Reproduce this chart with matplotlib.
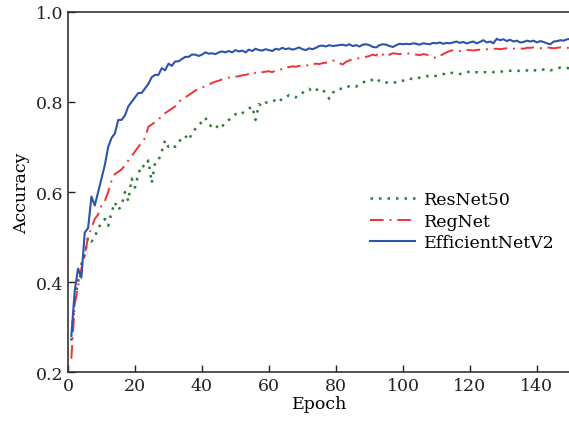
import matplotlib
matplotlib.use('Agg')
import matplotlib.pyplot as plt

# Accuracy per epoch
epochs = list(range(1, 151))

resnet50 = [
    0.27, 0.36, 0.40, 0.44, 0.46, 0.50, 0.49, 0.50, 0.52, 0.53,
    0.54, 0.525, 0.555, 0.577, 0.56, 0.57, 0.60, 0.58, 0.63, 0.61,
    0.64, 0.66, 0.655, 0.67, 0.62, 0.665, 0.67, 0.69, 0.715, 0.70,
    0.705, 0.70, 0.71, 0.72, 0.725, 0.715, 0.73, 0.74, 0.75, 0.755,
    0.765, 0.75, 0.745, 0.74, 0.75, 0.745, 0.755, 0.76, 0.765, 0.773,
    0.77, 0.775, 0.78, 0.785, 0.79, 0.76, 0.795, 0.79, 0.798, 0.80,
    0.80, 0.805, 0.80, 0.808, 0.81, 0.815, 0.812, 0.81, 0.818, 0.82,
    0.825, 0.829, 0.822, 0.826, 0.83, 0.828, 0.818, 0.807, 0.82, 0.826,
    0.83, 0.828, 0.832, 0.835, 0.836, 0.834, 0.84, 0.843, 0.846, 0.845,
    0.85, 0.853, 0.846, 0.842, 0.843, 0.842, 0.842, 0.844, 0.848, 0.847,
    0.85, 0.852, 0.85, 0.851, 0.854, 0.856, 0.858, 0.855, 0.857, 0.858,
    0.86, 0.862, 0.861, 0.865, 0.864, 0.863, 0.862, 0.863, 0.866, 0.867,
    0.864, 0.866, 0.865, 0.866, 0.866, 0.867, 0.866, 0.867, 0.868, 0.867,
    0.868, 0.869, 0.87, 0.868, 0.87, 0.871, 0.87, 0.868, 0.871, 0.869,
    0.87, 0.872, 0.873, 0.87, 0.872, 0.875, 0.876, 0.874, 0.875, 0.875,
]

regnet = [
    0.23, 0.35, 0.39, 0.43, 0.46, 0.50, 0.52, 0.54, 0.55, 0.57,
    0.58, 0.60, 0.625, 0.64, 0.645, 0.65, 0.66, 0.67, 0.68, 0.69,
    0.70, 0.71, 0.72, 0.745, 0.75, 0.755, 0.76, 0.77, 0.775, 0.78,
    0.785, 0.79, 0.80, 0.805, 0.81, 0.815, 0.82, 0.825, 0.83, 0.832,
    0.835, 0.838, 0.842, 0.845, 0.847, 0.85, 0.852, 0.854, 0.856, 0.856,
    0.857, 0.859, 0.86, 0.862, 0.86, 0.865, 0.864, 0.866, 0.867, 0.868,
    0.866, 0.87, 0.871, 0.873, 0.878, 0.877, 0.879, 0.878, 0.88, 0.88,
    0.882, 0.88, 0.883, 0.885, 0.884, 0.886, 0.887, 0.889, 0.892, 0.89,
    0.886, 0.883, 0.889, 0.892, 0.895, 0.896, 0.897, 0.899, 0.90, 0.902,
    0.905, 0.903, 0.91, 0.905, 0.90, 0.905, 0.908, 0.907, 0.906, 0.907,
    0.908, 0.907, 0.906, 0.905, 0.904, 0.906, 0.905, 0.903, 0.90, 0.897,
    0.902, 0.906, 0.91, 0.913, 0.915, 0.914, 0.913, 0.914, 0.915, 0.915,
    0.914, 0.915, 0.916, 0.916, 0.917, 0.917, 0.918, 0.918, 0.917, 0.918,
    0.919, 0.919, 0.918, 0.92, 0.919, 0.918, 0.92, 0.92, 0.921, 0.92,
    0.919, 0.92, 0.921, 0.92, 0.919, 0.92, 0.921, 0.92, 0.92, 0.92,
]

efficientnetv2 = [
    0.28, 0.38, 0.43, 0.41, 0.51, 0.52, 0.59, 0.57, 0.60, 0.63,
    0.66, 0.70, 0.72, 0.73, 0.76, 0.76, 0.77, 0.79, 0.80, 0.81,
    0.82, 0.82, 0.83, 0.84, 0.855, 0.86, 0.86, 0.875, 0.87, 0.885,
    0.88, 0.89, 0.89, 0.895, 0.90, 0.90, 0.905, 0.905, 0.902, 0.905,
    0.91, 0.907, 0.908, 0.906, 0.91, 0.912, 0.91, 0.913, 0.91, 0.915,
    0.912, 0.914, 0.91, 0.916, 0.913, 0.918, 0.915, 0.914, 0.917, 0.915,
    0.913, 0.918, 0.916, 0.92, 0.917, 0.919, 0.916, 0.918, 0.921, 0.917,
    0.915, 0.919, 0.917, 0.92, 0.924, 0.925, 0.923, 0.926, 0.924, 0.925,
    0.926, 0.927, 0.925, 0.928, 0.924, 0.926, 0.923, 0.927, 0.928, 0.926,
    0.922, 0.921, 0.926, 0.928, 0.927, 0.924, 0.922, 0.926, 0.929, 0.928,
    0.929, 0.928, 0.93, 0.929, 0.927, 0.93, 0.929, 0.928, 0.931, 0.93,
    0.932, 0.929, 0.931, 0.93, 0.932, 0.934, 0.931, 0.933, 0.93, 0.932,
    0.934, 0.93, 0.933, 0.937, 0.932, 0.934, 0.93, 0.94, 0.937, 0.939,
    0.935, 0.938, 0.934, 0.936, 0.932, 0.933, 0.936, 0.934, 0.936, 0.932,
    0.935, 0.933, 0.93, 0.928, 0.934, 0.935, 0.937, 0.936, 0.939, 0.94,
]

x_ticks = [0, 20, 40, 60, 80, 100, 120, 140]
y_ticks = [0.2, 0.4, 0.6, 0.8, 1.0]

plt.rcParams['font.family'] = ['DejaVu Serif']
plt.rcParams['font.size'] = 12

fig = plt.figure(figsize=(5.69, 4.27), dpi=100)
# the reference is cropped at the right edge, so no right spine shows
ax = fig.add_axes([0.1195, 0.126, 0.883, 0.844])

ax.plot(epochs, resnet50, color='#2e7a36', linestyle=(0, (1, 2.4)), linewidth=1.8, label='ResNet50')
ax.plot(epochs, regnet, color='#ee3336', linestyle=(0, (7, 3, 1, 3)), linewidth=1.4, label='RegNet')
ax.plot(epochs, efficientnetv2, color='#2c54a8', linestyle='-', linewidth=1.5, label='EfficientNetV2')

ax.set_xlim(0, 150)
ax.set_ylim(0.2, 1.0)
ax.set_xticks(x_ticks)
ax.set_yticks(y_ticks)
ax.set_yticklabels(['0.2', '0.4', '0.6', '0.8', '1.0'])
ax.tick_params(direction='in', length=5, width=1, labelsize=12.5, colors='#222222')
for s in ax.spines.values():
    s.set_color('#333333')
    s.set_linewidth(1.2)
ax.spines['right'].set_visible(False)

ax.set_xlabel('Epoch', fontsize=12.5, labelpad=1)
ax.set_ylabel('Accuracy', fontsize=12.5, labelpad=4)

ax.legend(loc='upper left', bbox_to_anchor=(0.57, 0.545), frameon=False,
          handlelength=2.6, handletextpad=0.5, labelspacing=0.25, fontsize=12.5)

fig.savefig('out.png', dpi=100)
